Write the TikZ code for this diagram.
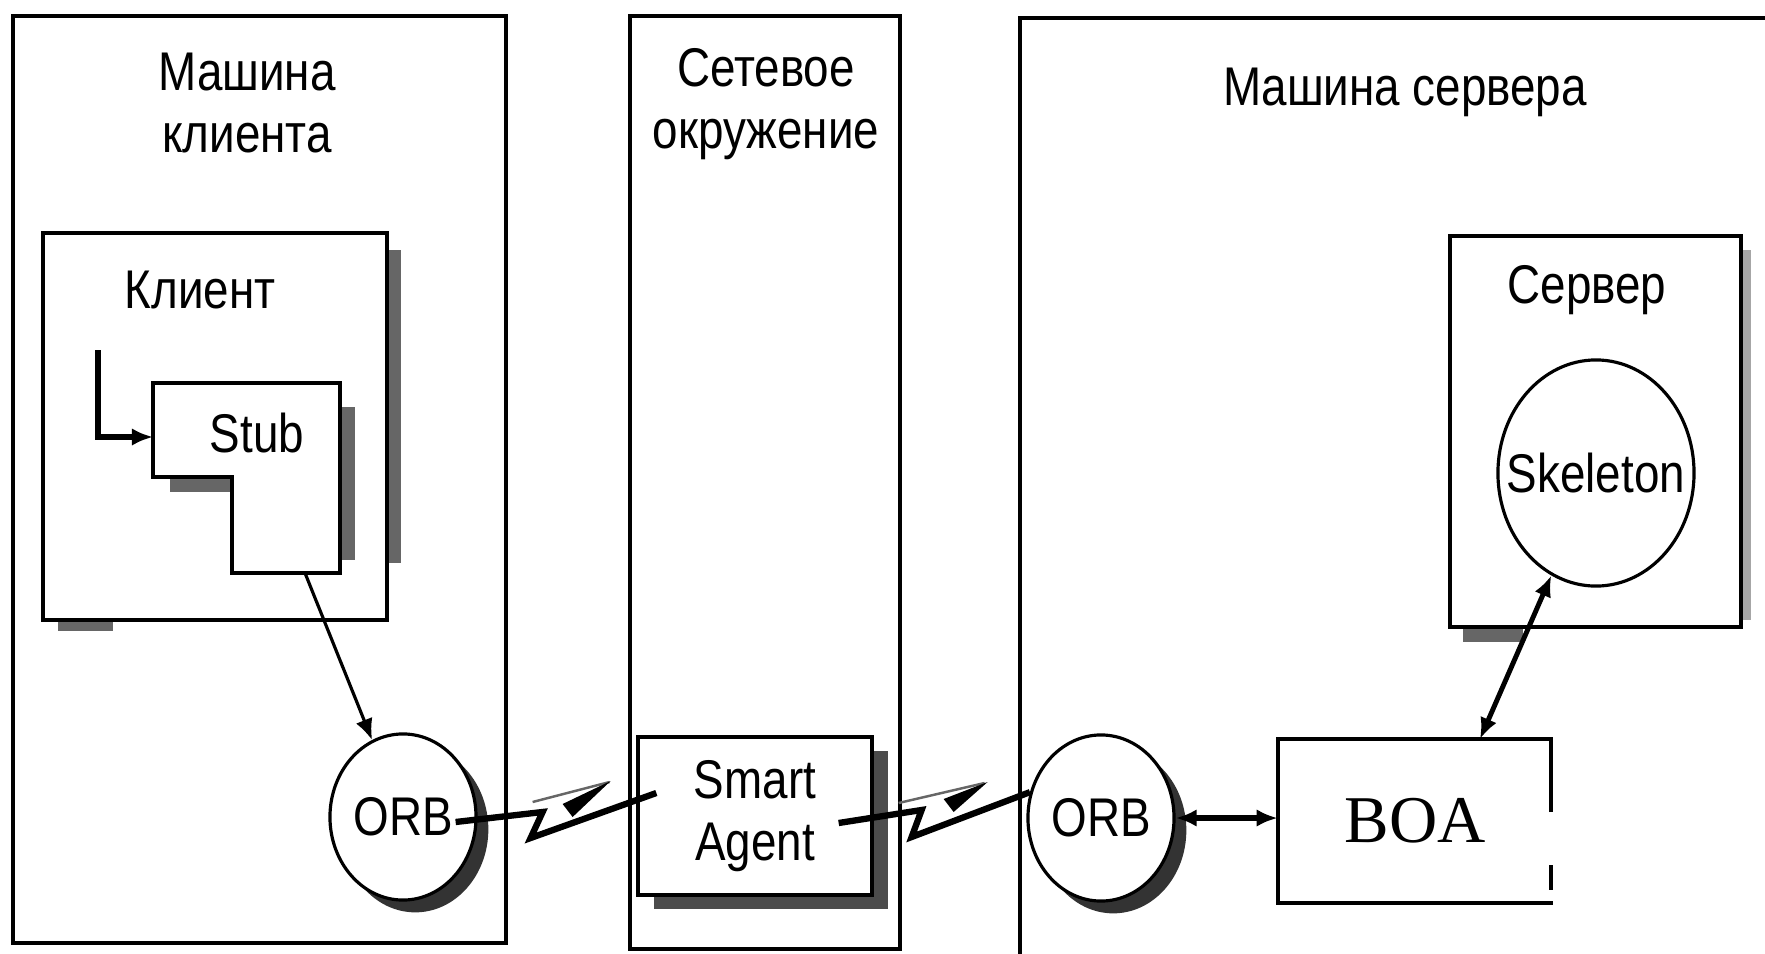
\documentclass[tikz,border=0pt]{standalone}
\usepackage{fontspec}
\setmainfont{Liberation Sans}[FakeStretch=0.84]
\newfontfamily\boafont{Liberation Serif}
\usetikzlibrary{shapes.geometric,arrows.meta,shadows,calc}

\tikzset{
  box/.style={draw, line width=0.9pt},
  shade/.style={fill=black!60},
  circ/.style={ellipse, draw, fill=white, line width=0.9pt, inner sep=0pt},
  orb/.style={circ, minimum width=1.46cm, minimum height=1.66cm,
    drop shadow={shadow xshift=3.5pt, shadow yshift=-3.5pt, fill=black!80, opacity=1}},
  bolt/.style={line width=1.8pt},
  >={Latex[length=6pt,width=5pt]},
}

\begin{document}
\begin{tikzpicture}[x=0.01cm, y=-0.01cm, font=\fontsize{15.5}{17.6}\selectfont]
    \useasboundingbox (0,0) rectangle (1765,954);

    % machines and network
    \draw[box] (13,16) rectangle (506,943);
    \draw[box] (630,16) rectangle (900,949);
    \draw[box] (1765,18) -- (1020,18) -- (1020,954);

    \node[align=center] (clientm) at (247,103) {Машина\\клиента};
    \node[align=center] (net) at (766,104) {Сетевое\\окружение};
    \node (serverm) at (1405,92) {Машина сервера};

    % client
    \fill[shade] (387,250) rectangle (401,563);
    \fill[shade] (58,620) rectangle (113,631);
    \draw[box] (43,233) rectangle (387,620);
    \node (client) at (200,290) {Клиент};

    \fill[shade] (340,407) rectangle (355,560);
    \fill[shade] (170,477) rectangle (232,492);
    \draw[box, fill=white] (153,383) -- (340,383) -- (340,573) -- (232,573) -- (232,477) -- (153,477) -- cycle;
    \node (stub) at (257,433) {Stub};
    \coordinate (stubin) at (153,437);
    \coordinate (stubout) at (305,573);
    \coordinate (callin) at (98,350);

    \node[orb] (orbc) at (403,817) {ORB};
    \draw[->, line width=1.7pt] (callin) |- (stubin);
    \draw[->, line width=0.9pt] (stubout) -- (orbc);

    % agent
    \node[box, fill=white, minimum width=2.34cm, minimum height=1.58cm, align=center,
          drop shadow={shadow xshift=4.5pt, shadow yshift=-4pt, fill=black!70, opacity=1}]
          (agent) at (755,816) {Smart\\Agent};

    % server
    \fill[black!35] (1742,250) rectangle (1751,620);
    \fill[shade] (1463,627) rectangle (1523,642);
    \draw[box] (1450,236) rectangle (1741,627);
    \node (server) at (1587,290) {Сервер};
    \node[circ, minimum width=1.96cm, minimum height=2.26cm] (skel) at (1596,473) {};
    \node (skeltext) at (skel) {Skeleton};

    \draw[box] (1551,812) -- (1551,739) -- (1278,739) -- (1278,903) -- (1553,903);
    \draw[box] (1551,865) -- (1551,890);
    \node[font=\boafont\fontsize{19}{21}\selectfont, minimum width=2.73cm, minimum height=1.64cm] (boa) at (1415,821) {BOA};
    \coordinate (boain) at (1480,739);

    \node[orb] (orbs) at (1101,818) {ORB};
    \draw[<->, line width=1.7pt] (orbs) -- (orbs -| boa.west);
    \draw[<->, line width=1.4pt] (skel) -- (boain);

    % links
    \draw[bolt] ($(orbc.east)+(-22,5)$) -- ++(87,-10) coordinate (ba) -- ++(-12,26) -- ($(agent.west)+(20,-23)$);
    \draw[line width=0.7pt, black!60] ($(ba)+(-10,-10)$) -- ++(77,-20);
    \fill ($(ba)+(20,-8)$) -- ($(ba)+(68,-31)$) -- ($(ba)+(30,5)$) -- cycle;

    \draw[bolt] ($(agent.east)+(-35,7)$) -- ++(83,-13) coordinate (bb) -- ++(-10,27) -- (orbs.160);
    \draw[line width=0.7pt, black!60] ($(bb)+(-23,-7)$) -- ++(86,-20);
    \fill ($(bb)+(22,-11)$) -- ($(bb)+(66,-28)$) -- ($(bb)+(32,2)$) -- cycle;
\end{tikzpicture}
\end{document}
